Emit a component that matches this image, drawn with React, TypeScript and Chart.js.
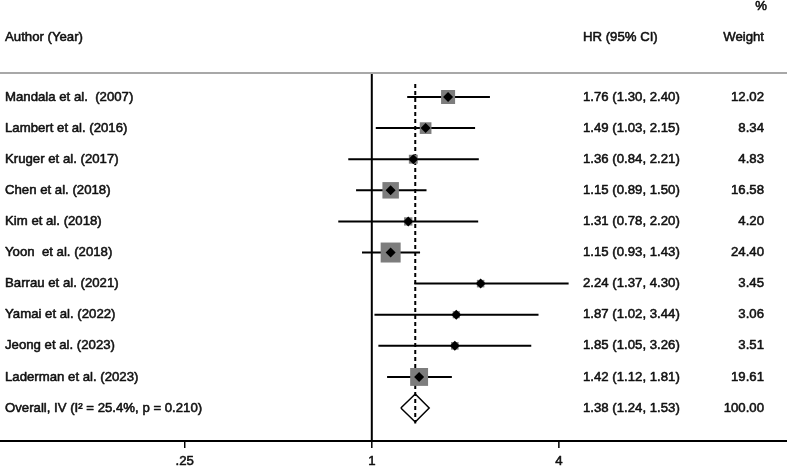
import React, { useEffect, useRef } from 'react';
import { Chart, registerables } from 'chart.js';

Chart.register(...registerables);

// ---- data ----
const studies = [
  'Mandala et al.  (2007)',
  'Lambert et al. (2016)',
  'Kruger et al. (2017)',
  'Chen et al. (2018)',
  'Kim et al. (2018)',
  'Yoon  et al. (2018)',
  'Barrau et al. (2021)',
  'Yamai et al. (2022)',
  'Jeong et al. (2023)',
  'Laderman et al. (2023)',
];
const hr = [1.76, 1.49, 1.36, 1.15, 1.31, 1.15, 2.24, 1.87, 1.85, 1.42];
const lower = [1.30, 1.03, 0.84, 0.89, 0.78, 0.93, 1.37, 1.02, 1.05, 1.12];
const upper = [2.40, 2.15, 2.21, 1.50, 2.20, 1.43, 4.30, 3.44, 3.26, 1.81];
const weights = [12.02, 8.34, 4.83, 16.58, 4.20, 24.40, 3.45, 3.06, 3.51, 19.61];

const overallLabel = 'Overall, IV (I\u00B2 = 25.4%, p = 0.210)';
const overallHR = 1.38;
const overallLower = 1.24;
const overallUpper = 1.53;
const overallWeight = 100.0;

const xTicks = [0.25, 1, 4];
const xTickLabels = ['.25', '1', '4'];

// ---- layout constants ----
const X_MIN = 0.0636;
const X_MAX = 21.69;
const Y_MIN = -0.772;
const Y_MAX = 11.06;
const FONT = '13.2px "Liberation Sans", Arial, sans-serif';
const TXT = '#111';

const fmt = (v: number) => v.toFixed(2);

function text(ctx: CanvasRenderingContext2D, s: string, x: number, y: number) {
  ctx.fillText(s, x, y);
  ctx.strokeText(s, x, y);
}

const textPlugin = {
  id: 'forestText',
  afterDraw(chart: any) {
    const { ctx, chartArea, scales } = chart;
    const xs = scales.x;
    const ys = scales.y;
    ctx.save();
    // header separator
    ctx.strokeStyle = '#a8a8a8';
    ctx.lineWidth = 2;
    ctx.beginPath();
    ctx.moveTo(0, chartArea.top);
    ctx.lineTo(chart.width, chartArea.top);
    ctx.stroke();
    // x axis
    ctx.strokeStyle = '#000';
    ctx.lineWidth = 2;
    ctx.beginPath();
    ctx.moveTo(0, chartArea.bottom);
    ctx.lineTo(chart.width, chartArea.bottom);
    ctx.stroke();
    ctx.lineWidth = 1.5;
    xTicks.forEach((t) => {
      const px = xs.getPixelForValue(t);
      ctx.beginPath();
      ctx.moveTo(px, chartArea.bottom);
      ctx.lineTo(px, chartArea.bottom + 7);
      ctx.stroke();
    });
    ctx.font = FONT;
    ctx.fillStyle = TXT;
    ctx.strokeStyle = TXT;
    ctx.lineWidth = 0.55;
    ctx.lineJoin = 'round';
    ctx.textBaseline = 'middle';
    ctx.textAlign = 'center';
    xTicks.forEach((t, i) => {
      const px = xs.getPixelForValue(t);
      text(ctx, xTickLabels[i], px, chartArea.bottom + 20);
    });
    // headers
    ctx.textAlign = 'left';
    text(ctx, 'Author (Year)', 5, 37);
    text(ctx, 'HR (95% CI)', 583, 37);
    ctx.textAlign = 'right';
    text(ctx, 'Weight', 764, 37);
    text(ctx, '%', 767, 6);
    // rows
    studies.forEach((s, i) => {
      const py = ys.getPixelForValue(i);
      ctx.textAlign = 'left';
      text(ctx, s, 5, py);
      text(ctx, `${fmt(hr[i])} (${fmt(lower[i])}, ${fmt(upper[i])})`, 583, py);
      ctx.textAlign = 'right';
      text(ctx, fmt(weights[i]), 764, py);
    });
    const oy = ys.getPixelForValue(studies.length);
    ctx.textAlign = 'left';
    text(ctx, overallLabel, 5, oy);
    text(ctx, `${fmt(overallHR)} (${fmt(overallLower)}, ${fmt(overallUpper)})`, 583, oy);
    ctx.textAlign = 'right';
    text(ctx, fmt(overallWeight), 764, oy);
    ctx.restore();
  },
};

export default function App() {
  const ref = useRef<HTMLCanvasElement | null>(null);

  useEffect(() => {
    if (!ref.current) return;
    const n = studies.length;
    const ciSets = studies.map((_, i) => ({
      type: 'line' as const,
      data: [
        { x: lower[i], y: i },
        { x: upper[i], y: i },
      ],
      borderColor: '#000',
      borderWidth: 2,
      pointRadius: 0,
      showLine: true,
      fill: false,
      clip: false as any,
    }));
    const chart = new Chart(ref.current, {
      type: 'scatter',
      data: {
        datasets: [
          {
            // point estimates
            data: hr.map((v, i) => ({ x: v, y: i })),
            pointStyle: 'rectRot',
            pointRadius: 5,
            backgroundColor: '#000',
            borderColor: '#000',
            borderWidth: 0,
            showLine: false,
          } as any,
          {
            // weight squares
            data: hr.map((v, i) => ({ x: v, y: i })),
            pointStyle: 'rect',
            pointRadius: weights.map((w) => 2.86 * Math.sqrt(w)),
            backgroundColor: '#7d7d7d',
            borderColor: '#7d7d7d',
            borderWidth: 0,
            showLine: false,
          } as any,
          ...ciSets,
          {
            // overall diamond
            type: 'line',
            data: [
              { x: overallLower, y: n },
              { x: overallHR, y: n - 0.45 },
              { x: overallUpper, y: n },
              { x: overallHR, y: n + 0.45 },
              { x: overallLower, y: n },
            ],
            borderColor: '#000',
            borderWidth: 1.5,
            pointRadius: 0,
            fill: false,
            showLine: true,
            tension: 0,
          } as any,
          {
            // overall effect dashed line
            type: 'line',
            data: [
              { x: overallHR, y: -0.42 },
              { x: overallHR, y: n + 0.5 },
            ],
            borderColor: '#000',
            borderWidth: 2,
            borderDash: [4, 3],
            pointRadius: 0,
            fill: false,
            showLine: true,
          } as any,
          {
            // null line at HR = 1
            type: 'line',
            data: [
              { x: 1, y: Y_MIN },
              { x: 1, y: Y_MAX },
            ],
            borderColor: '#000',
            borderWidth: 2,
            pointRadius: 0,
            fill: false,
            showLine: true,
          } as any,
        ],
      },
      options: {
        responsive: false,
        animation: false,
        devicePixelRatio: 1,
        layout: { autoPadding: false, padding: { top: 73, bottom: 26, left: 0, right: 0 } },
        plugins: {
          legend: { display: false },
          tooltip: { enabled: false },
        },
        scales: {
          x: {
            type: 'logarithmic',
            min: X_MIN,
            max: X_MAX,
            bounds: 'data',
            display: false,
          },
          y: {
            type: 'linear',
            min: Y_MIN,
            max: Y_MAX,
            reverse: true,
            display: false,
          },
        },
      },
      plugins: [textPlugin],
    });
    return () => chart.destroy();
  }, []);

  return (
    <div style={{ position: 'absolute', left: 0, top: 0, width: 787, height: 467, background: '#fff' }}>
      <canvas ref={ref} width={787} height={467} />
    </div>
  );
}
